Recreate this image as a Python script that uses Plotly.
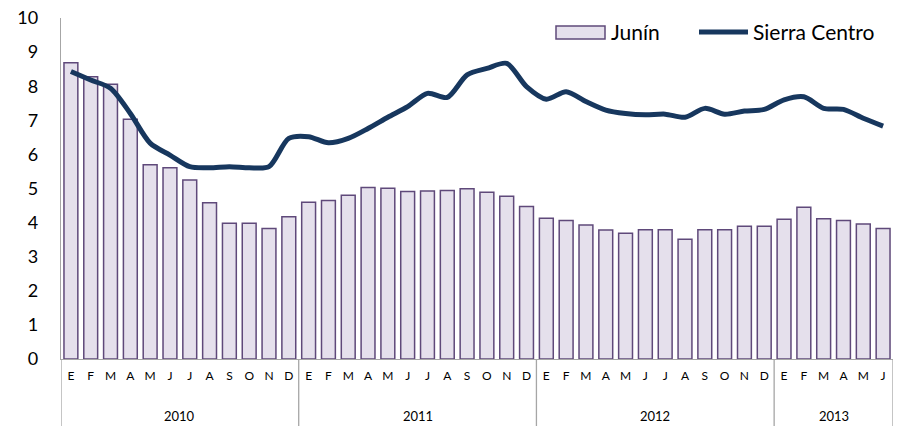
import plotly.graph_objects as go

years = ["2010", "2011", "2012", "2013"]
months_per_year = [12, 12, 12, 6]
month_letters = ["E", "F", "M", "A", "M", "J", "J", "A", "S", "O", "N", "D"]

junin = [8.69, 8.28, 8.06, 7.03, 5.70, 5.61, 5.25, 4.58, 3.98, 3.98, 3.83, 4.17,
         4.60, 4.65, 4.80, 5.03, 5.01, 4.91, 4.93, 4.94, 4.99, 4.89, 4.77, 4.47,
         4.13, 4.06, 3.93, 3.78, 3.69, 3.79, 3.79, 3.51, 3.79, 3.79, 3.89, 3.89,
         4.10, 4.45, 4.11, 4.06, 3.96, 3.83]
sierra_centro = [8.43, 8.18, 7.94, 7.20, 6.33, 5.98, 5.64, 5.61, 5.64, 5.61, 5.64, 6.47,
                 6.52, 6.34, 6.47, 6.76, 7.09, 7.40, 7.79, 7.67, 8.33, 8.52, 8.67, 7.99,
                 7.62, 7.84, 7.55, 7.30, 7.20, 7.16, 7.18, 7.09, 7.35, 7.18, 7.27, 7.32,
                 7.60, 7.69, 7.35, 7.32, 7.06, 6.83]

labels = []
for n in months_per_year:
    labels += month_letters[:n]
x = list(range(len(labels)))

bar_fill = "#e5e0ec"
bar_edge = "#5f497a"
line_col = "#17375e"
axis_grey = "#a6a6a6"

fig = go.Figure()
fig.add_trace(go.Bar(x=x, y=junin, name="Junín",
                     marker=dict(color=bar_fill, line=dict(color=bar_edge, width=1.5)),
                     width=0.7))
fig.add_trace(go.Scatter(x=x, y=sierra_centro, name="Sierra Centro", mode="lines",
                         line=dict(color=line_col, width=5, shape="spline", smoothing=0.8)))

# plot area is 832 x 341 px; helpers to place things in paper units
px = lambda p: (p - 61) / 832
py = lambda p: (359 - p) / 341
bottom = py(426)

# year separators and year labels under the month ticks
bounds = [-0.5]
for n in months_per_year:
    bounds.append(bounds[-1] + n)
for b in bounds:
    fig.add_shape(type="line", xref="x", yref="paper", x0=b, x1=b, y0=0, y1=bottom,
                  line=dict(color=axis_grey, width=1.3))
for i, yr in enumerate(years):
    fig.add_annotation(x=(bounds[i] + bounds[i + 1]) / 2, y=py(416),
                       xref="x", yref="paper", text=yr, showarrow=False,
                       font=dict(size=13, color="black"), yanchor="middle")

# legend drawn by hand (wide rectangle swatch like the original)
fig.add_shape(type="rect", xref="paper", yref="paper", x0=px(556), x1=px(605),
              y0=py(39), y1=py(26), fillcolor=bar_fill, line=dict(color=bar_edge, width=1.5))
fig.add_annotation(x=px(609), y=py(32), xref="paper", yref="paper", text="Junín",
                   showarrow=False, xanchor="left", yanchor="middle", font=dict(size=21))
fig.add_shape(type="line", xref="paper", yref="paper", x0=px(699), x1=px(748),
              y0=py(32), y1=py(32), line=dict(color=line_col, width=5))
fig.add_annotation(x=px(751), y=py(32), xref="paper", yref="paper", text="Sierra Centro",
                   showarrow=False, xanchor="left", yanchor="middle", font=dict(size=21))

fig.update_layout(
    width=902, height=426,
    margin=dict(l=61, r=9, t=18, b=67, autoexpand=False),
    plot_bgcolor="white", paper_bgcolor="white",
    font=dict(family="Lato, Open Sans, sans-serif", color="black"),
    bargap=0.3,
    showlegend=False,
    xaxis=dict(range=[-0.5, len(x) - 0.5], tickvals=x, ticktext=labels, automargin=False,
               tickfont=dict(size=12), showline=True, linecolor=axis_grey, linewidth=1.3,
               showgrid=False, ticks="", zeroline=False, tickangle=0, ticklabelstandoff=5),
    yaxis=dict(range=[0, 10], dtick=1, showgrid=False, zeroline=False, automargin=False,
               showline=True, linecolor=axis_grey, linewidth=1.3,
               tickfont=dict(size=18), ticklabelstandoff=18),
)

# the page body has a default 8px margin; drop it so the figure sits at 0,0
fig.write_html("out.html", config={"displayModeBar": False},
               post_script="document.body.style.margin='0';")
